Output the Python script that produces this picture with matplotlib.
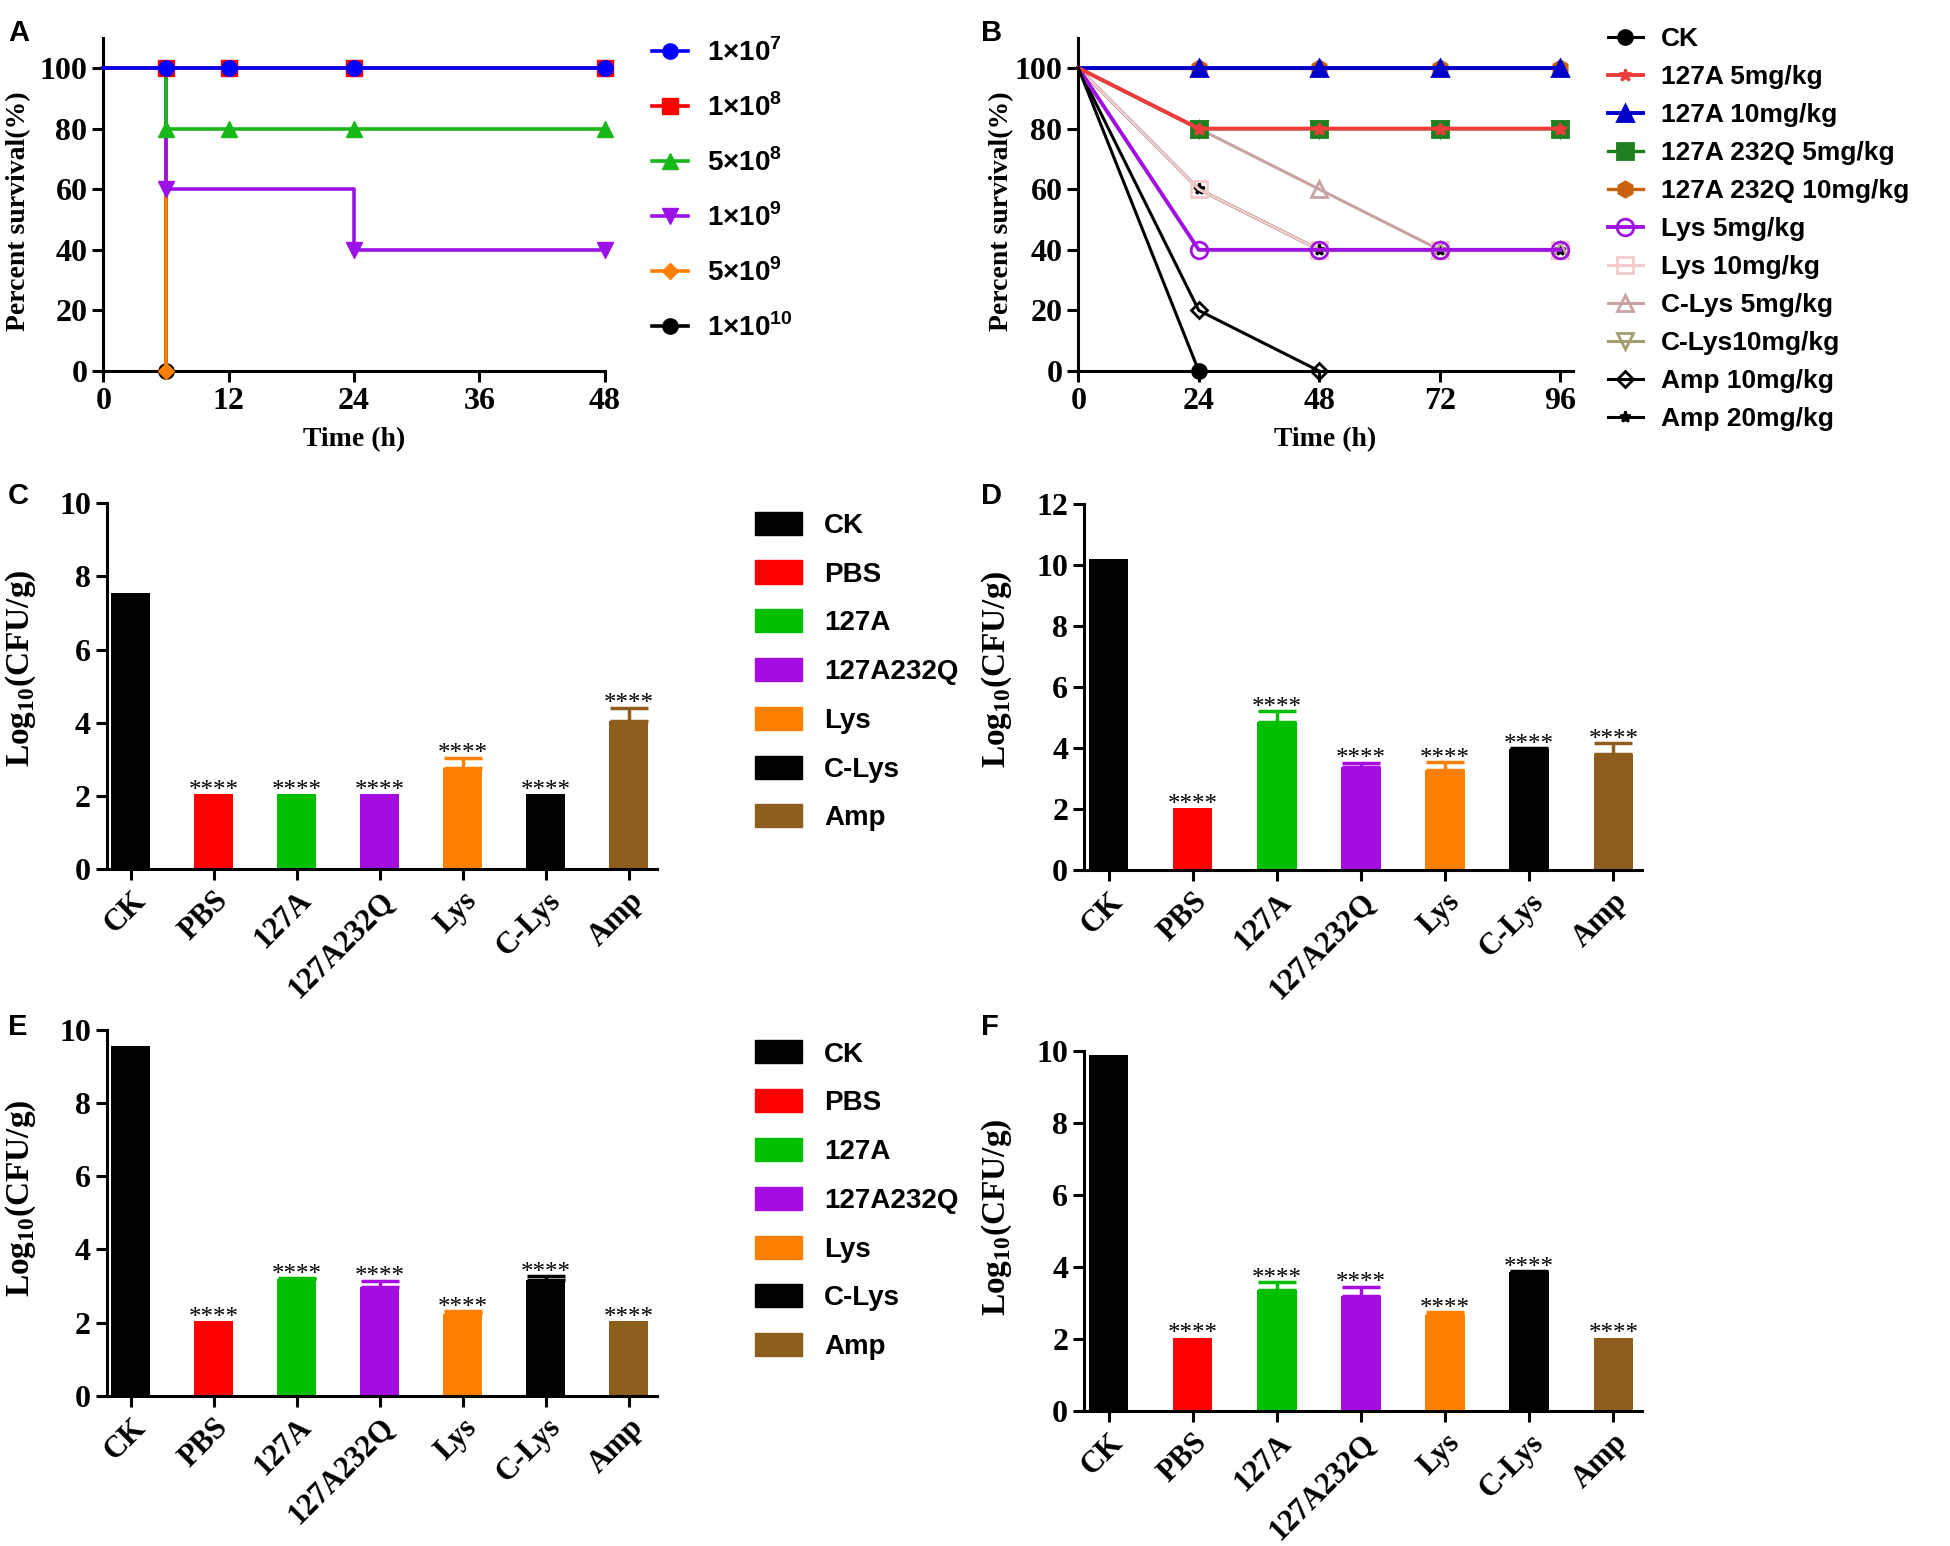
import matplotlib.pyplot as plt
import numpy as np

plt.rcParams['font.family'] = ['Liberation Serif', 'DejaVu Serif']
plt.rcParams['font.weight'] = 'bold'
plt.rcParams['axes.labelweight'] = 'bold'
plt.rcParams['mathtext.fontset'] = 'custom'
plt.rcParams['mathtext.rm'] = 'Liberation Serif:bold'
plt.rcParams['mathtext.bf'] = 'Liberation Sans:bold'
plt.rcParams['axes.linewidth'] = 2.2

# ---- panel A : survival after challenge dose ----
doses_a = [r'1×10$^{\mathbf{7}}$', r'1×10$^{\mathbf{8}}$', r'5×10$^{\mathbf{8}}$',
           r'1×10$^{\mathbf{9}}$', r'5×10$^{\mathbf{9}}$', r'1×10$^{\mathbf{10}}$']
times_a = [[0, 6, 12, 24, 48], [0, 6, 12, 24, 48], [0, 6, 12, 24, 48],
           [0, 6, 24, 48], [0, 6], [0, 6]]
surv_a = [[100, 100, 100, 100, 100], [100, 100, 100, 100, 100], [100, 80, 80, 80, 80],
          [100, 60, 40, 40], [100, 0], [100, 0]]
colors_a = ['#0000FF', '#FF0000', '#18B818', '#9A12E6', '#FF8000', '#000000']
markers_a = ['o', 's', '^', 'v', 'D', 'o']
msize_a = [11, 11, 11, 11, 8, 11]

# ---- panel B : survival after treatment ----
groups_b = ['CK', '127A 5mg/kg', '127A 10mg/kg', '127A 232Q 5mg/kg', '127A 232Q 10mg/kg',
            'Lys 5mg/kg', 'Lys 10mg/kg', 'C-Lys 5mg/kg', 'C-Lys10mg/kg', 'Amp 10mg/kg', 'Amp 20mg/kg']
times_b = [[0, 24], [0, 24, 48, 72, 96], [0, 24, 48, 72, 96], [0, 24, 48, 72, 96],
           [0, 24, 48, 72, 96], [0, 24, 48, 72, 96], [0, 24, 48, 72, 96],
           [0, 24, 48, 72, 96], [0, 24, 48, 72, 96], [0, 24, 48], [0, 24, 48, 72, 96]]
surv_b = [[100, 0], [100, 80, 80, 80, 80], [100, 100, 100, 100, 100], [100, 80, 80, 80, 80],
          [100, 100, 100, 100, 100], [100, 40, 40, 40, 40], [100, 60, 40, 40, 40],
          [100, 80, 60, 40, 40], [100, 80, 80, 80, 80], [100, 20, 0], [100, 60, 40, 40, 40]]
colors_b = ['#000000', '#F03C3C', '#0000CC', '#1E7F1E', '#C8620F', '#A012E0', '#F5CACA',
            '#C9A2A2', '#A59E6E', '#000000', '#000000']
markers_b = ['o', '*', '^', 's', 'h', 'o', 's', '^', 'v', 'D', '*']
filled_b = [True, True, True, True, True, False, False, False, False, False, True]
msize_b = [10, 9, 11, 11, 11, 12, 11, 12, 12, 8, 8]
lw_b = [2.2, 2.8, 2.8, 2.4, 2.4, 2.8, 2.2, 2.2, 2.2, 2.2, 2.2]

# ---- panels C-F : bacterial load ----
bar_labels = ['CK', 'PBS', '127A', '127A232Q', 'Lys', 'C-Lys', 'Amp']
bar_colors = ['#000000', '#FF0000', '#00BF00', '#A50CE0', '#FF8000', '#000000', '#8E5E1E']
load_c = [7.55, 2.05, 2.05, 2.05, 2.78, 2.05, 4.05]
err_c = [0, 0, 0, 0, 0.27, 0, 0.37]
load_d = [10.2, 2.05, 4.85, 3.38, 3.28, 3.97, 3.8]
err_d = [0, 0, 0.37, 0.15, 0.27, 0.03, 0.38]
load_e = [9.55, 2.05, 3.2, 2.97, 2.25, 3.17, 2.05]
err_e = [0, 0, 0.02, 0.18, 0.07, 0.1, 0]
load_f = [9.9, 2.05, 3.38, 3.22, 2.68, 3.87, 2.05]
err_f = [0, 0, 0.22, 0.25, 0.08, 0.03, 0]

tick_font = 23
lab_font = 20
sans = {'family': 'Liberation Sans', 'weight': 'bold'}

fig = plt.figure(figsize=(19.5, 15.46), dpi=100)


def style_axes(ax):
    for s in ['top', 'right']:
        ax.spines[s].set_visible(False)
    ax.tick_params(width=2.2, length=8, labelsize=tick_font)
    for lbl in ax.get_xticklabels() + ax.get_yticklabels():
        lbl.set_fontweight('bold')


# A
axA = fig.add_axes([0.053, 0.760, 0.257, 0.2156])
for i in range(len(doses_a)):
    t, s = times_a[i], surv_a[i]
    z = 10 - i
    axA.step(t, s, where='post', color=colors_a[i], lw=2.6, zorder=z, clip_on=False)
    axA.plot(t[1:], s[1:], ls='none', marker=markers_a[i], ms=msize_a[i],
             color=colors_a[i], zorder=z, clip_on=False)
handles_a = [plt.Line2D([], [], color=colors_a[i], lw=2.6, marker=markers_a[i], ms=msize_a[i])
             for i in range(len(doses_a))]
axA.set_xlim(0, 48)
axA.set_ylim(0, 110)
axA.set_xticks([0, 12, 24, 36, 48])
axA.set_yticks([0, 20, 40, 60, 80, 100])
style_axes(axA)
axA.set_xlabel('Time (h)', fontsize=lab_font, labelpad=8)
axA.set_ylabel('Percent survival(%)', fontsize=lab_font)
axA.yaxis.set_label_coords(-0.145, 0.48)
fig.legend(handles_a, doses_a, loc='upper left', bbox_to_anchor=(0.327, 0.984), frameon=False,
           prop={**sans, 'size': 20}, handlelength=1.3, handletextpad=0.7,
           labelspacing=0.95, borderpad=0)

# B
axB = fig.add_axes([0.553, 0.760, 0.2535, 0.2156])
handles_b = []
for i in range(len(groups_b)):
    t, s = times_b[i], surv_b[i]
    z = 20 - i
    fc = colors_b[i] if filled_b[i] else 'none'
    axB.plot(t, s, color=colors_b[i], lw=lw_b[i], zorder=z, clip_on=False)
    axB.plot(t[1:], s[1:], ls='none', marker=markers_b[i], ms=msize_b[i], mfc=fc,
             mec=colors_b[i], mew=2, color=colors_b[i], zorder=z, clip_on=False)
    handles_b.append(plt.Line2D([], [], color=colors_b[i], lw=lw_b[i], marker=markers_b[i],
                                ms=msize_b[i], mfc=fc, mec=colors_b[i], mew=2))
axB.set_xlim(0, 98.5)
axB.set_ylim(0, 110)
axB.set_xticks([0, 24, 48, 72, 96])
axB.set_yticks([0, 20, 40, 60, 80, 100])
style_axes(axB)
axB.set_xlabel('Time (h)', fontsize=lab_font, labelpad=8)
axB.set_ylabel('Percent survival(%)', fontsize=lab_font)
axB.yaxis.set_label_coords(-0.13, 0.48)
fig.legend(handles_b, groups_b, loc='upper left', bbox_to_anchor=(0.818, 0.991), frameon=False,
           prop={**sans, 'size': 19}, handlelength=1.3, handletextpad=0.7,
           labelspacing=0.53, borderpad=0)


def bar_panel(rect, vals, errs, ymax, label_y):
    ax = fig.add_axes(rect)
    x = np.arange(len(bar_labels))
    ax.bar(x, vals, width=0.47, color=bar_colors)
    for xi, v, e, c in zip(x, vals, errs, bar_colors):
        if e > 0:
            ax.errorbar(xi, v, yerr=[[0], [e]], color=c, lw=2.5, capsize=14, capthick=2.5)
        if xi > 0:
            ax.annotate('****', (xi, v + e), xytext=(0, -2), textcoords='offset points',
                        ha='center', va='baseline', fontsize=18, fontweight='normal')
    ax.set_xlim(-0.29, 6.34)
    ax.set_ylim(0, ymax)
    ax.set_yticks(np.arange(0, ymax + 1, 2))
    ax.set_xticks(x)
    ax.set_xticklabels(bar_labels, rotation=45, ha='right', rotation_mode='anchor')
    style_axes(ax)
    ax.tick_params(axis='x', pad=4, labelsize=22)
    ax.set_ylabel(r'Log$_{10}$(CFU/g)', fontsize=24)
    ax.yaxis.set_label_coords(-0.125, label_y)
    return ax


bar_panel([0.0548, 0.4377, 0.282, 0.2368], load_c, err_c, 10, 0.55)
bar_panel([0.556, 0.437, 0.286, 0.237], load_d, err_d, 12, 0.55)
bar_panel([0.0548, 0.097, 0.282, 0.237], load_e, err_e, 10, 0.54)
bar_panel([0.556, 0.087, 0.286, 0.233], load_f, err_f, 10, 0.54)

# legends for C and E
bar_handles = [plt.Rectangle((0, 0), 1, 1, color=c) for c in bar_colors]
for top in [0.678, 0.336]:
    fig.legend(bar_handles, bar_labels, loc='upper left', bbox_to_anchor=(0.380, top),
               frameon=False, prop={**sans, 'size': 20}, handlelength=1.7, handleheight=0.9,
               labelspacing=0.78, borderpad=0)

# panel letters
for letter, (lx, ly) in {'A': (0.004, 0.988), 'B': (0.503, 0.988), 'C': (0.004, 0.688),
                         'D': (0.503, 0.688), 'E': (0.004, 0.345), 'F': (0.503, 0.345)}.items():
    fig.text(lx, ly, letter, fontsize=21, va='top', **sans)

fig.savefig('out.png', dpi=100)
